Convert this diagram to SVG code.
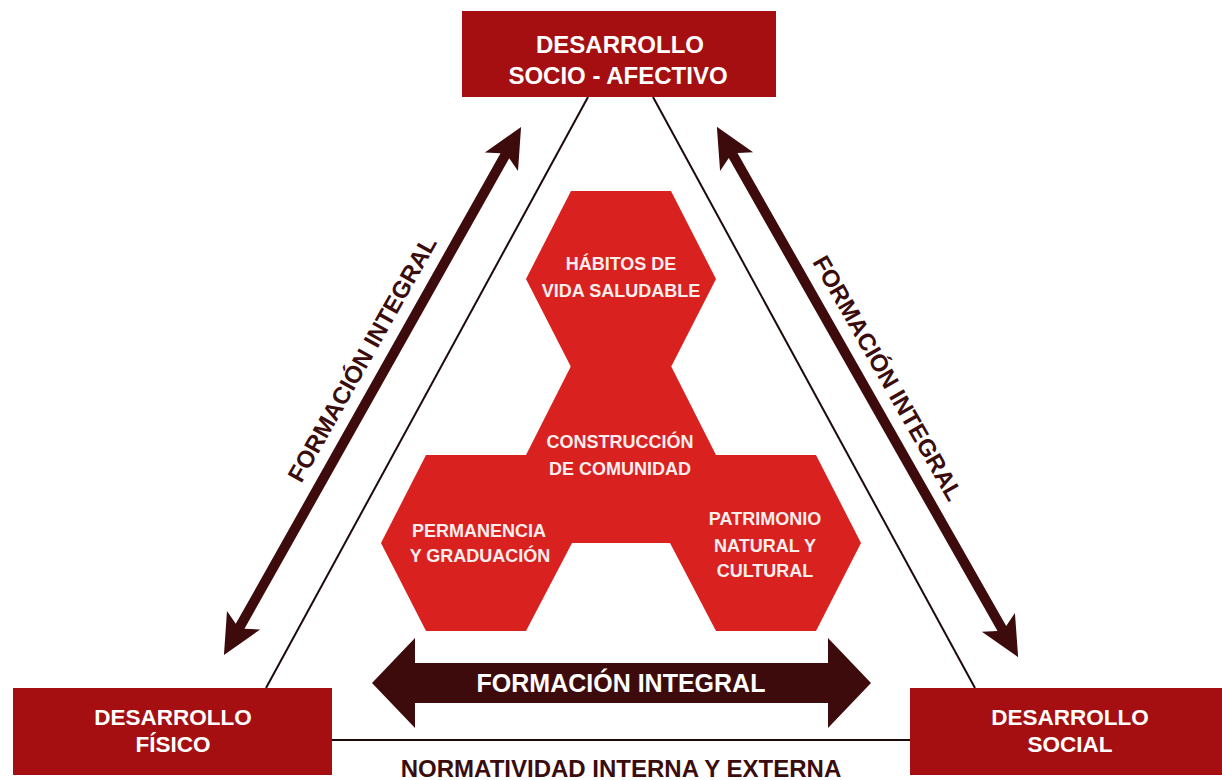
<svg xmlns="http://www.w3.org/2000/svg" width="1222" height="780" viewBox="0 0 1222 780">
<style>
.box{fill:#a50f12}
.hex{fill:#d9211f}
.bt{font-family:"Liberation Sans",Arial,sans-serif;font-weight:bold;font-size:24px;fill:#ffffff;text-anchor:middle}
.bs{font-family:"Liberation Sans",Arial,sans-serif;font-weight:bold;font-size:22.5px;fill:#ffffff;text-anchor:middle}
.ht{font-family:"Liberation Sans",Arial,sans-serif;font-weight:bold;font-size:18px;fill:#fdeeee;text-anchor:middle}
.lbl{font-family:"Liberation Sans",Arial,sans-serif;font-weight:bold;font-size:24px;fill:#3a0c0c;text-anchor:middle}
.arr{fill:#3d0b0b}
.ln{stroke:#1e0a0a;stroke-width:2;fill:none}
</style>
<rect width="1222" height="780" fill="#ffffff"/>
<g id="connectors">
  <line class="ln" x1="588" y1="97" x2="266" y2="688"/>
  <line class="ln" x1="653" y1="97" x2="975" y2="688"/>
  <line class="ln" x1="332" y1="740" x2="910" y2="740"/>
  <g id="arrow-left" transform="translate(372.5,391) rotate(-60.64)">
    <polygon class="arr" points="-303,0 -263,-19 -270,-5 270,-5 263,-19 303,0 263,19 270,5 -270,5 -263,19"/>
  </g>
  <g id="arrow-right" transform="translate(867.5,392) rotate(60.4)">
    <polygon class="arr" points="-305,0 -265,-19 -272,-5 272,-5 265,-19 305,0 265,19 272,5 -272,5 -265,19"/>
  </g>
  <g id="arrow-bottom">
    <polygon class="arr" points="372,683 415,638 415,663 828,663 828,638 871,683 828,728 828,703 415,703 415,728"/>
    <text class="bt" x="621" y="692" style="font-size:25px">FORMACIÓN INTEGRAL</text>
  </g>
  <text class="lbl" transform="translate(362,359) rotate(-60.6)" x="0" y="8.5">FORMACIÓN INTEGRAL</text>
  <text class="lbl" transform="translate(888,378) rotate(60.4)" x="0" y="8.5">FORMACIÓN INTEGRAL</text>
  <text class="lbl" x="621" y="777">NORMATIVIDAD INTERNA Y EXTERNA</text>
</g>
<g id="node-socioafectivo">
  <rect class="box" x="462" y="11" width="314" height="86"/>
  <text class="bt" x="620" y="53">DESARROLLO</text>
  <text class="bt" x="618" y="84">SOCIO - AFECTIVO</text>
</g>
<g id="node-fisico">
  <rect class="box" x="13" y="688" width="319" height="87"/>
  <text class="bs" x="173" y="725">DESARROLLO</text>
  <text class="bs" x="173" y="752">FÍSICO</text>
</g>
<g id="node-social">
  <rect class="box" x="910" y="688" width="312" height="87"/>
  <text class="bs" x="1070" y="725">DESARROLLO</text>
  <text class="bs" x="1070" y="752">SOCIAL</text>
</g>
<g id="node-habitos">
  <polygon class="hex" points="526,279 571,191 671,191 716,279 671,367 571,367"/>
  <text class="ht" x="621" y="270">HÁBITOS DE</text>
  <text class="ht" x="621" y="297">VIDA SALUDABLE</text>
</g>
<g id="node-comunidad">
  <polygon class="hex" points="526,455 571,366 671,366 716,455 671,543 571,543"/>
  <text class="ht" x="620" y="448">CONSTRUCCIÓN</text>
  <text class="ht" x="620" y="475">DE COMUNIDAD</text>
</g>
<g id="node-permanencia">
  <polygon class="hex" points="381,543 426,455 527,455 572,543 526,631 426,631"/>
  <text class="ht" x="479" y="537">PERMANENCIA</text>
  <text class="ht" x="480" y="562">Y GRADUACIÓN</text>
</g>
<g id="node-patrimonio">
  <polygon class="hex" points="670,543 715,455 816,455 861,543 816,631 716,631"/>
  <text class="ht" x="765" y="525">PATRIMONIO</text>
  <text class="ht" x="765" y="552">NATURAL Y</text>
  <text class="ht" x="765" y="577">CULTURAL</text>
</g>
</svg>
